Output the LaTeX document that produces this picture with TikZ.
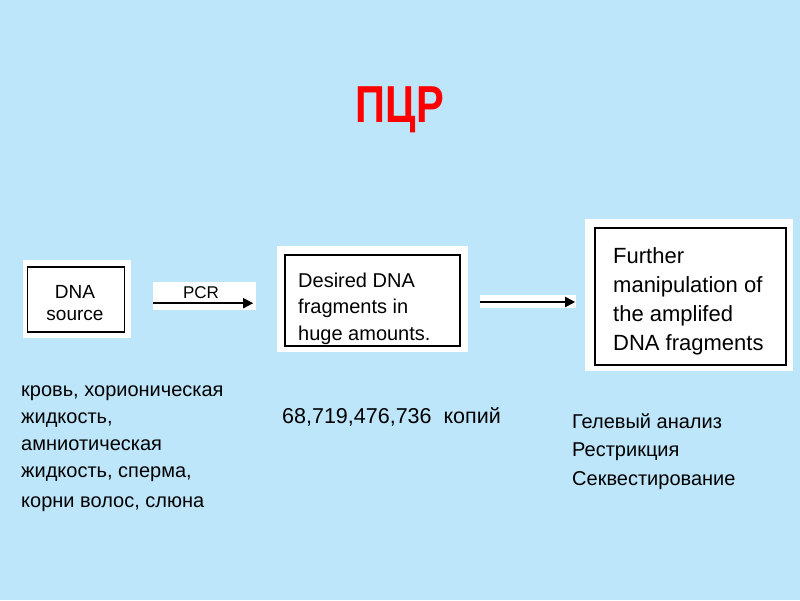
\documentclass[tikz,border=0pt]{standalone}
\usepackage{fontspec}
\setmainfont{Liberation Sans}
\usetikzlibrary{arrows.meta}
\definecolor{slideblue}{RGB}{189,230,251}
\definecolor{titlered}{RGB}{255,0,0}
\tikzset{
  panel/.style={fill=white,inner sep=0pt},
  box/.style={draw,line width=1.7pt,inner sep=0pt},
  flow/.style={line width=1.8pt,-{Triangle[length=10pt,width=10pt]}},
  note/.style={anchor=base west,align=left,inner sep=0pt},
}
\begin{document}
\begin{tikzpicture}[x=1pt,y=-1pt]
\fill[slideblue] (0,0) rectangle (800,600);
\useasboundingbox (0,0) rectangle (800,600);
% title
\node[anchor=base,inner sep=0pt,xscale=0.8,text=titlered,font=\fontsize{52}{52}\selectfont\bfseries] (title) at (400,122) {ПЦР};
% DNA source
\node[panel,minimum width=108pt,minimum height=78pt] (srcpanel) at (77,299) {};
\node[box,minimum width=97pt,minimum height=65pt] (src) at (76,299.5) {};
\node[anchor=base,align=center,inner sep=0pt,font=\fontsize{19}{22}\selectfont] (srctext) at (75,320) {DNA\\source};
% PCR arrow
\node[panel,minimum width=103pt,minimum height=28pt] (pcr) at (204.5,296) {};
\node[anchor=base,inner sep=0pt,font=\fontsize{17}{17}\selectfont] (pcrtext) at (201,298) {PCR};
\draw[flow] ([yshift=7pt]pcr.south west) -- ([xshift=-3pt,yshift=7pt]pcr.south east);
% amplified fragments
\node[panel,minimum width=191pt,minimum height=106pt] (fragpanel) at (372.5,299) {};
\node[box,minimum width=175pt,minimum height=91pt] (frag) at (372.5,300.5) {};
\node[note,font=\fontsize{20}{26.5}\selectfont] (fragtext) at (298,340) {Desired DNA\\fragments in\\huge amounts.};
% second arrow
\node[panel,minimum width=96pt,minimum height=13pt] (next) at (528,301.5) {};
\draw[flow] ([yshift=-0.5pt]next.west) -- ([xshift=-1pt,yshift=-0.5pt]next.east);
% further work
\node[panel,minimum width=208pt,minimum height=152pt] (furtherpanel) at (689,295) {};
\node[box,minimum width=191pt,minimum height=137pt] (further) at (690.5,296.5) {};
\node[note,font=\fontsize{22}{29}\selectfont] (furthertext) at (613,350) {Further\\manipulation of\\the amplifed\\DNA fragments};
% notes below
\node[note,font=\fontsize{20}{27}\selectfont] (sources) at (21,507) {кровь, хорионическая\\жидкость,\\амниотическая\\жидкость, сперма,\\[3pt]корни волос, слюна};
\node[note,font=\fontsize{21.5}{26}\selectfont] (copies) at (282,423) {68,719,476,736~ копий};
\node[note,font=\fontsize{20}{28.5}\selectfont] (methods) at (572,485) {Гелевый анализ\\Рестрикция\\Секвестирование};
\end{tikzpicture}
\end{document}
